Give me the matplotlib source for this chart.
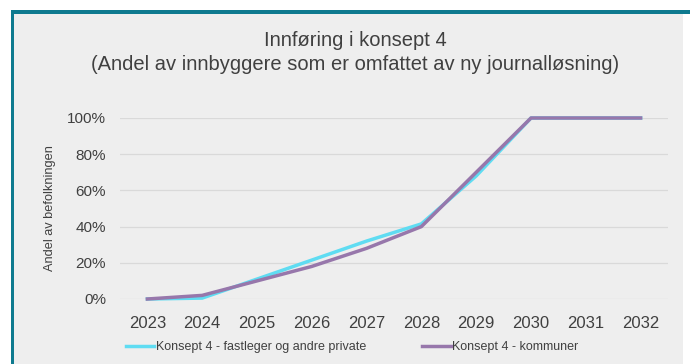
import matplotlib.pyplot as plt
from matplotlib.patches import Rectangle
from matplotlib.ticker import PercentFormatter

plt.rcParams['font.family'] = ['Liberation Sans', 'DejaVu Sans']

years = [2023, 2024, 2025, 2026, 2027, 2028, 2029, 2030, 2031, 2032]
fastleger = [0.0, 0.005, 0.11, 0.215, 0.32, 0.415, 0.68, 1.0, 1.0, 1.0]
kommuner = [0.0, 0.02, 0.10, 0.18, 0.28, 0.40, 0.70, 1.0, 1.0, 1.0]

navn_fastleger = "Konsept 4 - fastleger og andre private"
navn_kommuner = "Konsept 4 - kommuner"

W, H = 690, 364
fig = plt.figure(figsize=(W / 100, H / 100), dpi=100)
fig.patch.set_facecolor("white")

# grå bakgrunn med blå kant oppe og til venstre
fig.patches.append(Rectangle((11 / W, 0), (683 - 11) / W, (H - 10) / H,
                             transform=fig.transFigure, facecolor="#eeeeee",
                             edgecolor="none", zorder=0))
fig.patches.append(Rectangle((11 / W, (H - 14) / H), 1 - 11 / W, 4 / H,
                             transform=fig.transFigure, facecolor="#0e7a8f",
                             edgecolor="none", zorder=1))
fig.patches.append(Rectangle((11 / W, 0), 3 / W, (H - 10) / H,
                             transform=fig.transFigure, facecolor="#0e7a8f",
                             edgecolor="none", zorder=1))

ax = fig.add_axes([120 / W, (H - 299) / H, (668 - 120) / W, (299 - 118) / H])
ax.set_facecolor("none")
ax.set_zorder(2)

ax.plot(years, fastleger, color="#5fdcf2", lw=2.5, label=navn_fastleger,
        clip_on=False, zorder=3)
ax.plot(years, kommuner, color="#9777ab", lw=2.5, label=navn_kommuner,
        clip_on=False, zorder=4)

ax.set_xlim(2022.5, 2032.5)
ax.set_ylim(0, 1)
ax.set_xticks(years)
ax.set_yticks([0, 0.2, 0.4, 0.6, 0.8, 1.0])
ax.yaxis.set_major_formatter(PercentFormatter(1.0, decimals=0))
ax.grid(axis="y", color="#d9d9d9", lw=0.9)
ax.set_axisbelow(True)
for s in ax.spines.values():
    s.set_visible(False)
ax.tick_params(length=0, colors="#404040")
ax.tick_params(axis="y", labelsize=11, pad=10)
ax.tick_params(axis="x", labelsize=12, pad=12)

ax.set_ylabel("Andel av befolkningen", fontsize=9.2, color="#404040", labelpad=8)

fig.text(355 / W, 1 - 41 / H, "Innføring i konsept 4", ha="center", va="center",
         fontsize=14.5, color="#404040")
fig.text(355 / W, 1 - 65 / H, "(Andel av innbyggere som er omfattet av ny journalløsning)",
         ha="center", va="center", fontsize=14.5, color="#404040")

fig.legend(loc="center", bbox_to_anchor=(352 / W, 1 - 347 / H), ncol=2,
           frameon=False, fontsize=9, handlelength=2.3, handletextpad=0.1,
           columnspacing=4.5, labelcolor="#404040")

fig.savefig("out.png", dpi=100)
